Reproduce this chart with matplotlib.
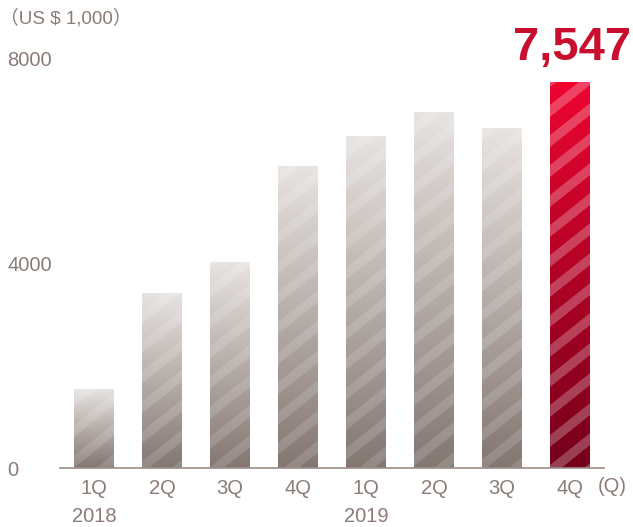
import matplotlib
matplotlib.use("Agg")
import matplotlib.pyplot as plt
import matplotlib.colors as mcolors
import numpy as np

# Quarterly values (US $ 1,000)
quarters = ["1Q", "2Q", "3Q", "4Q", "1Q", "2Q", "3Q", "4Q"]
values = [1530, 3420, 4010, 5890, 6480, 6950, 6650, 7547]
years = ["2018", "2019"]
year_pos = [0, 4]
y_ticks = [0, 4000, 8000]

plt.rcParams["font.family"] = ["Liberation Sans", "Noto Sans CJK JP", "DejaVu Sans"]
text_col = "#8a7c76"
red = "#c8102e"

W, H = 633, 527
fig = plt.figure(figsize=(W / 100, H / 100), dpi=100)
ax = fig.add_axes([60 / W, 59 / H, 544 / W, 409 / H])
ax.set_xlim(-0.5, len(values) - 0.5)
ax.set_ylim(0, 8000)

bar_w = 40 / 68
bars = ax.bar(range(len(values)), values, width=bar_w, color="none", edgecolor="none")

gray_top, gray_bot = np.array(mcolors.to_rgb("#e8e4e1")), np.array(mcolors.to_rgb("#847670"))
red_top, red_bot = np.array(mcolors.to_rgb("#ee0530")), np.array(mcolors.to_rgb("#74001a"))

px_per_x = 544 / len(values)
px_per_y = 409 / 8000
period, band, slope = 30.0, 12.0, 0.8

# gradient fill with diagonal light stripes, one image per bar
for i, (b, v) in enumerate(zip(bars, values)):
    hp = int(round(v * px_per_y))
    wp = int(round(bar_w * px_per_x))
    yy, xx = np.mgrid[0:hp, 0:wp].astype(float)
    t = (yy + 0.5) / hp
    top, bot = (red_top, red_bot) if i == len(values) - 1 else (gray_top, gray_bot)
    img = bot[None, None, :] * (1 - t[..., None]) + top[None, None, :] * t[..., None]
    phase = np.mod(yy - slope * (xx + i * 68), period)
    stripe = np.clip(np.minimum(phase, band - phase) + 0.5, 0, 1)
    a = 0.25 if i == len(values) - 1 else 0.14
    img = img * (1 - a * stripe[..., None]) + a * stripe[..., None]
    x0 = b.get_x()
    ax.imshow(img, extent=[x0, x0 + bar_w, 0, v], origin="lower",
              aspect="auto", interpolation="bilinear", zorder=2)

for s in ["top", "left", "right"]:
    ax.spines[s].set_visible(False)
ax.spines["bottom"].set_color("#9c8e88")
ax.spines["bottom"].set_linewidth(1.2)
ax.spines["bottom"].set_zorder(3)

ax.set_yticks(y_ticks)
ax.set_yticklabels([str(t) for t in y_ticks], ha="left")
ax.tick_params(axis="y", length=0, pad=38, labelsize=14.5, labelcolor=text_col)
ax.set_xticks(range(len(values)))
ax.set_xticklabels(quarters)
ax.tick_params(axis="x", length=0, pad=8, labelsize=14.5, labelcolor=text_col)

for yr, p in zip(years, year_pos):
    ax.annotate(yr, (p, 0), xytext=(0, -48), textcoords="offset pixels",
                ha="center", va="center", fontsize=14.5, color=text_col)

ax.annotate(f"{values[-1]:,}", (len(values) - 1, values[-1]), xytext=(2, 22),
            textcoords="offset pixels", ha="center", va="baseline",
            fontsize=34, fontweight="bold", color=red)

fig.text(0, 1 - 18 / H, "（US $ 1,000）", ha="left", va="center",
         fontsize=13.5, color=text_col)
fig.text(598 / W, 1 - 487 / H, "(Q)", ha="left", va="center",
         fontsize=14.5, color=text_col)

fig.savefig("out.png", dpi=100)
